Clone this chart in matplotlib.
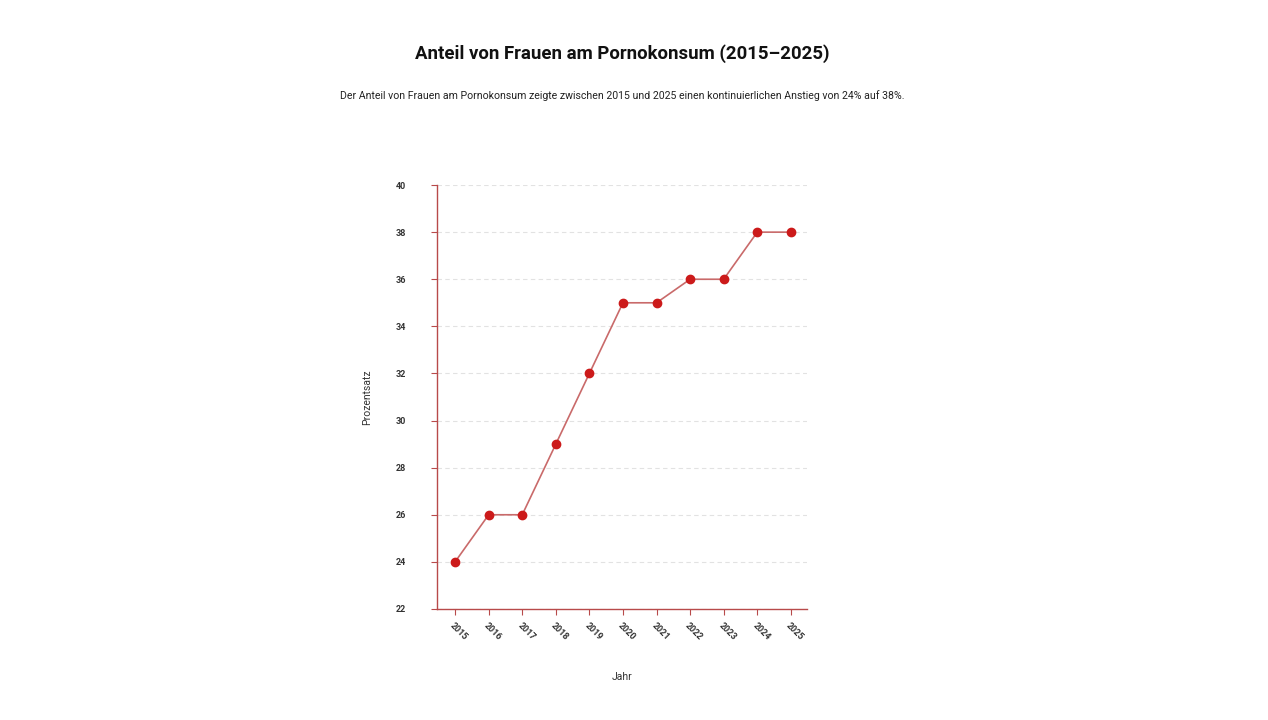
import numpy as np
from matplotlib import pyplot as plt

plt.rcParams['font.family'] = ['Roboto', 'DejaVu Sans']

years = [2015, 2016, 2017, 2018, 2019, 2020, 2021, 2022, 2023, 2024, 2025]
share = [24, 26, 26, 29, 32, 35, 35, 36, 36, 38, 38]
yticks = [22, 24, 26, 28, 30, 32, 34, 36, 38, 40]

title = 'Anteil von Frauen am Pornokonsum (2015\u20132025)'
subtitle = ('Der Anteil von Frauen am Pornokonsum zeigte zwischen 2015 und 2025 '
            'einen kontinuierlichen Anstieg von 24% auf 38%.')

fig = plt.figure(figsize=(12.68, 7.2), dpi=100, facecolor='w')
ax = fig.add_axes([0.3446, 0.1542, 0.2918, 0.5888])

ax.plot(years, share, color='#c96a6a', linewidth=1.2, zorder=2)
ax.scatter(years, share, color='#cc1a1a', s=36, zorder=3)

ax.set_xlim(2014.46, 2025.48)
ax.set_ylim(22, 40)
ax.set_xticks(years)
ax.set_yticks(yticks)
ax.set_xticklabels([str(y) for y in years], rotation=-45, ha='left',
                   rotation_mode='anchor', fontsize=6.5, fontweight='bold',
                   color='#333333')
ax.set_yticklabels([str(v) for v in yticks], fontsize=6.5, fontweight='bold',
                   color='#333333')
ax.tick_params(axis='both', color='#b84a4a', length=4, width=0.8)
ax.tick_params(axis='x', pad=5)
ax.tick_params(axis='y', pad=18)

ax.grid(axis='y', linestyle=(0, (4, 3)), color='#e2e2e2', linewidth=0.8)
ax.set_axisbelow(True)

for side in ['top', 'right']:
    ax.spines[side].set_visible(False)
for side in ['left', 'bottom']:
    ax.spines[side].set_color('#b84a4a')
    ax.spines[side].set_linewidth(1.0)

ax.set_ylabel('Prozentsatz', fontsize=7.5, color='#333333', labelpad=17)
ax.set_xlabel('Jahr', fontsize=7.5, color='#333333', labelpad=21)

fig.text(0.4905, 0.926, title, ha='center', va='center', fontsize=13.4,
         fontweight='bold', color='#111111')
fig.text(0.4905, 0.867, subtitle, ha='center', va='center', fontsize=7.6,
         color='#222222')

fig.savefig('out.png', dpi=100, facecolor='w')
